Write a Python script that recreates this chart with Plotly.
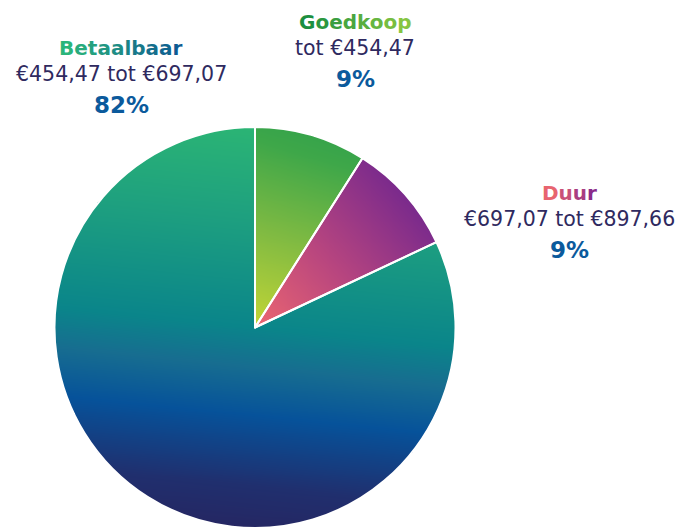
import numpy as np
import plotly.graph_objects as go

# ---- data ----
categories = ["Goedkoop", "Duur", "Betaalbaar"]
ranges = ["tot €454,47", "€697,07 tot €897,66", "€454,47 tot €697,07"]
shares = [9, 9, 82]

W, H = 677, 528
# pie placement (paper fractions)
dom_x = [54.5 / W, 455.5 / W]
dom_y = [0.0, 401 / H]

# gradient definitions per slice: (direction weights, zmin, zmax, colorscale)
grads = {
    "Goedkoop": ((0.3, 1.0), 0.0, 1.1,
                 [[0, "#c3d536"], [0.45, "#7fba42"], [0.85, "#3ea749"], [1, "#33a24b"]]),
    "Duur": ((0.7, 0.6), 0.0, 0.92,
             [[0, "#ec6670"], [0.5, "#b7457f"], [1, "#7a2a8c"]]),
    "Betaalbaar": ((0.1, 1.0), -1.1, 1.1,
                   [[0, "#27235e"], [0.14, "#202f6e"], [0.3, "#06529a"],
                    [0.41, "#176d90"], [0.5, "#0a858a"], [0.75, "#1ea07f"], [1, "#2eb972"]]),
}

fig = go.Figure()

N = 420
c = np.linspace(-1 + 1 / N, 1 - 1 / N, N)
X, Y = np.meshgrid(c, c)
R = np.sqrt(X ** 2 + Y ** 2)
ANG = (np.degrees(np.arctan2(X, Y)) + 360) % 360

cum = np.cumsum([0] + shares) / sum(shares) * 360
for i, cat in enumerate(categories):
    (wx, wy), zmin, zmax, cs = grads[cat]
    a0, a1 = cum[i], cum[i + 1]
    mask = (R <= 1.0) & (ANG >= a0) & (ANG <= a1)
    Z = np.where(mask, wx * X + wy * Y, np.nan)
    fig.add_trace(go.Heatmap(x=c, y=c, z=Z, colorscale=cs, zmin=zmin, zmax=zmax,
                             showscale=False, hoverinfo="skip"))

fig.add_trace(go.Pie(
    labels=categories, values=shares, sort=False, direction="clockwise", rotation=0,
    marker=dict(colors=["rgba(0,0,0,0)"] * 3, line=dict(color="white", width=2)),
    textinfo="none", domain=dict(x=dom_x, y=dom_y), showlegend=False,
    hovertemplate="%{label}: %{value}%<extra></extra>",
))

fig.update_xaxes(domain=dom_x, range=[-1, 1], visible=False, fixedrange=True)
fig.update_yaxes(domain=dom_y, range=[-1, 1], visible=False, fixedrange=True)


def hexrgb(h):
    h = h.lstrip("#")
    return [int(h[i:i + 2], 16) for i in (0, 2, 4)]


def grad_text(text, c1, c2):
    a, b = hexrgb(c1), hexrgb(c2)
    n = max(len(text) - 1, 1)
    out = []
    for k, ch in enumerate(text):
        t = k / n
        col = "#%02x%02x%02x" % tuple(round(a[j] + (b[j] - a[j]) * t) for j in range(3))
        out.append(f"<span style='color:{col}'>{ch}</span>")
    return "".join(out)


title_cols = {"Goedkoop": ("#1b8f40", "#86c541"),
              "Duur": ("#e8646f", "#8a2a8a"),
              "Betaalbaar": ("#2bb57a", "#0d5b92")}
# label centres in pixels (x, y of first line)
label_pos = {"Goedkoop": (355, 22), "Duur": (569, 193), "Betaalbaar": (121, 48)}

FONT = "DejaVu Sans"
for cat, rng, sh in zip(categories, ranges, shares):
    px, py = label_pos[cat]
    c1, c2 = title_cols[cat]
    rows = [
        (grad_text(cat, c1, c2), 0, dict(family=FONT, size=20, color=c1), True),
        (rng, 26, dict(family=FONT, size=20.5, color="#2f2a5f"), False),
        (f"{sh}%", 57, dict(family=FONT, size=23, color="#0b5a9c"), True),
    ]
    for txt, dy, font, bold in rows:
        fig.add_annotation(x=px / W, y=1 - (py + dy) / H, xref="paper", yref="paper",
                           text=f"<b>{txt}</b>" if bold else txt, showarrow=False,
                           xanchor="center", yanchor="middle", font=font)

fig.update_layout(width=W, height=H, margin=dict(l=0, r=0, t=0, b=0),
                  paper_bgcolor="white", plot_bgcolor="rgba(0,0,0,0)", showlegend=False)

fig.write_html("out.html", config={"displayModeBar": False},
               post_script="document.body.style.margin='0';document.body.style.overflow='hidden';")
